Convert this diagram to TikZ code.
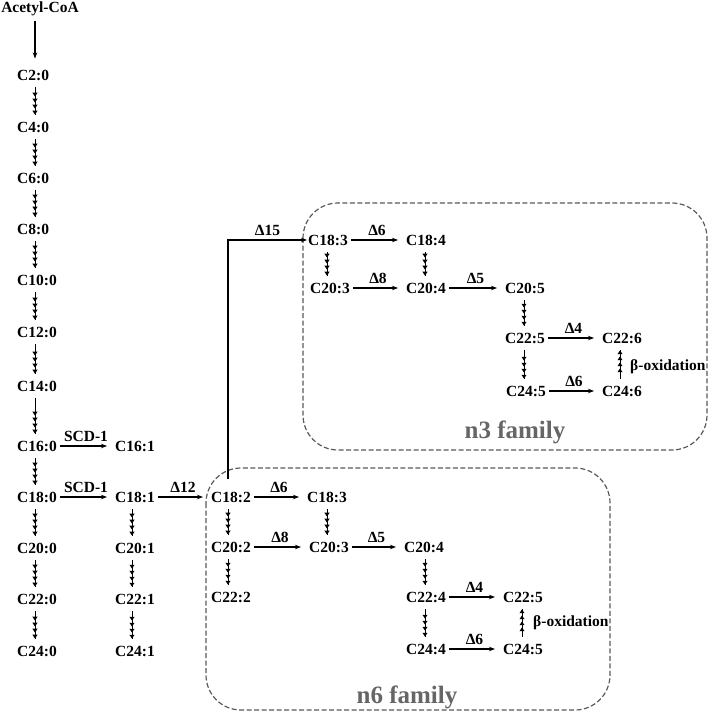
\documentclass[tikz,border=0pt]{standalone}
\usepackage{fontspec}
\setmainfont{Liberation Serif}
\usetikzlibrary{arrows.meta,calc}
\begin{document}
\begin{tikzpicture}[x=1pt,y=-1pt,
  lbl/.style={font=\fontsize{15.5}{18}\selectfont\bfseries, inner sep=1pt},
  fa/.style={lbl, anchor=west},
  enz/.style={lbl, midway, above=3pt},
  conv/.style={-{Stealth[length=6pt,width=4.5pt]}, line width=1.1pt, shorten <=2pt, shorten >=7pt},
  eline/.style={line width=0.7pt},
  etips/.style={line width=0.7pt, -{Triangle[length=3.8pt,width=5pt,sep=2.2pt]Triangle[length=3.8pt,width=5pt,sep=2.2pt]Triangle[length=3.8pt,width=5pt,sep=2.2pt]Triangle[length=3.8pt,width=5pt]}},
  fam/.style={draw=black!65, dash pattern=on 5pt off 2.5pt, line width=1.2pt, rounded corners=35pt},
  famlbl/.style={font=\fontsize{25}{30}\selectfont\bfseries, text=black!60, inner sep=0pt}]
\newcommand\chain[3]{\draw[eline] ($(#1.south -| #3)+(0,6)$) -- ($(#2.north -| #3)+(0,-6)$);
  \draw[etips] ($(#1.south -| #3)+(0,6)$) -- ($(#2.north -| #3)+(0,-6)$);}
\newcommand\chainup[3]{\draw[eline] ($(#1.north -| #3)+(0,-6)$) -- ($(#2.south -| #3)+(0,6)$);
  \draw[etips] ($(#1.north -| #3)+(0,-6)$) -- ($(#2.south -| #3)+(0,6)$);}
\newcommand\conv[3]{\draw[conv] (#1.east) -- node[enz] {#3} (#1.east -| #2.west);}
\useasboundingbox (0,0) rectangle (711,719);
% family boxes
\draw[fam] (303,203) rectangle (707,450);
\draw[fam] (206,468) rectangle (610,710);
\node[famlbl] (n3lbl) at (515,432) {n3 family};
\node[famlbl] (n6lbl) at (407,697) {n6 family};
% column coordinates
\coordinate (x35) at (35,0);
\coordinate (x132) at (132,0);
\coordinate (x228) at (228,0);
\coordinate (x327) at (327,0);
\coordinate (x425) at (425,0);
\coordinate (x522) at (522,0);
\coordinate (x524) at (524,0);
\coordinate (x620) at (620,0);
% left column
\node[lbl] (acoa) at (40,9) {Acetyl-CoA};
\node[fa] (l2) at (16,75) {C2:0};
\node[fa] (l4) at (16,127) {C4:0};
\node[fa] (l6) at (16,178) {C6:0};
\node[fa] (l8) at (16,229) {C8:0};
\node[fa] (l10) at (16,280) {C10:0};
\node[fa] (l12) at (16,332) {C12:0};
\node[fa] (l14) at (16,386) {C14:0};
\node[fa] (l16) at (16,446) {C16:0};
\node[fa] (l18) at (16,497) {C18:0};
\node[fa] (l20) at (16,548) {C20:0};
\node[fa] (l22) at (16,599) {C22:0};
\node[fa] (l24) at (16,651) {C24:0};
\draw[-{Stealth[length=6pt,width=4.5pt]}, line width=1.1pt] ($(acoa.south -| x35)+(0,4)$) -- ($(l2.north -| x35)+(0,-10)$);
\chain{l2}{l4}{x35}
\chain{l4}{l6}{x35}
\chain{l6}{l8}{x35}
\chain{l8}{l10}{x35}
\chain{l10}{l12}{x35}
\chain{l12}{l14}{x35}
\chain{l14}{l16}{x35}
\chain{l16}{l18}{x35}
\chain{l18}{l20}{x35}
\chain{l20}{l22}{x35}
\chain{l22}{l24}{x35}
% monounsaturated column
\node[fa] (m16) at (114,446) {C16:1};
\node[fa] (m18) at (114,497) {C18:1};
\node[fa] (m20) at (114,548) {C20:1};
\node[fa] (m22) at (114,599) {C22:1};
\node[fa] (m24) at (114,651) {C24:1};
\conv{l16}{m16}{SCD-1}
\conv{l18}{m18}{SCD-1}
\chain{m18}{m20}{x132}
\chain{m20}{m22}{x132}
\chain{m22}{m24}{x132}
% n6 family
\node[lbl] (a182) at (231,497) {C18:2};
\node[lbl] (a183) at (327,497) {C18:3};
\node[lbl] (a202) at (231,547) {C20:2};
\node[lbl] (a203) at (329,547) {C20:3};
\node[lbl] (a204) at (424,547) {C20:4};
\node[lbl] (a222) at (231,597) {C22:2};
\node[lbl] (a224) at (426,597) {C22:4};
\node[lbl] (a244) at (426,649) {C24:4};
\node[lbl] (a225) at (523,597) {C22:5};
\node[lbl] (a245) at (523,649) {C24:5};
\node[fa] (abeta) at (532,623) {β-oxidation};
\conv{m18}{a182}{Δ12}
\conv{a182}{a183}{Δ6}
\conv{a202}{a203}{Δ8}
\conv{a203}{a204}{Δ5}
\conv{a224}{a225}{Δ4}
\conv{a244}{a245}{Δ6}
\chain{a182}{a202}{x228}
\chain{a202}{a222}{x228}
\chain{a183}{a203}{x327}
\chain{a204}{a224}{x425}
\chain{a224}{a244}{x425}
\chainup{a245}{a225}{x522}
% n3 family
\node[lbl] (b183) at (328,240) {C18:3};
\node[lbl] (b184) at (426,240) {C18:4};
\node[lbl] (b203) at (330,288) {C20:3};
\node[lbl] (b204) at (426,288) {C20:4};
\node[lbl] (b205) at (525,288) {C20:5};
\node[lbl] (b225) at (525,338) {C22:5};
\node[lbl] (b226) at (622,338) {C22:6};
\node[lbl] (b245) at (526,391) {C24:5};
\node[lbl] (b246) at (622,391) {C24:6};
\node[fa] (bbeta) at (629,367) {β-oxidation};
\conv{b183}{b184}{Δ6}
\conv{b203}{b204}{Δ8}
\conv{b204}{b205}{Δ5}
\conv{b225}{b226}{Δ4}
\conv{b245}{b246}{Δ6}
\chain{b183}{b203}{x327}
\chain{b184}{b204}{x425}
\chain{b205}{b225}{x524}
\chain{b225}{b245}{x524}
\chainup{b246}{b226}{x620}
% delta-15 branch
\draw[-{Stealth[length=6pt,width=4.5pt]}, line width=1.1pt] ($(a182.north -| x228)+(0,-12)$) |- node[lbl, pos=0.75, above=3pt] {Δ15} (b183.west);
\end{tikzpicture}
\end{document}
